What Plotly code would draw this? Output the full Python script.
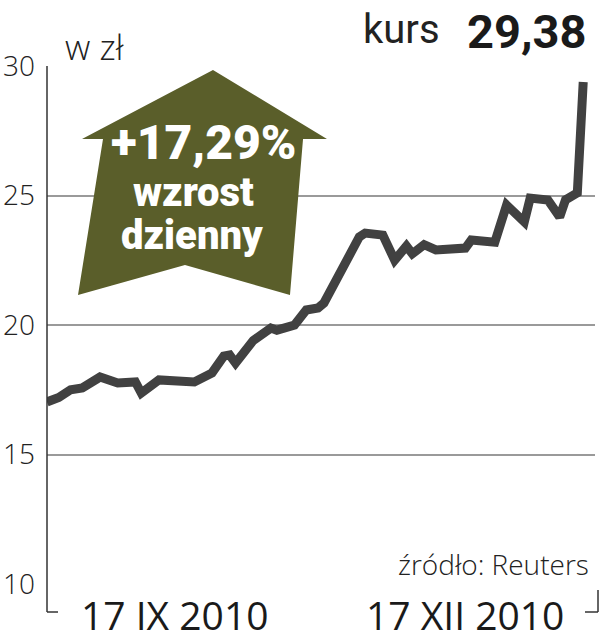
import plotly.graph_objects as go

# ---- data ----
dates = ["2010-09-17", "2010-09-19", "2010-09-21", "2010-09-23", "2010-09-26", "2010-09-29",
         "2010-10-02", "2010-10-03", "2010-10-06", "2010-10-12", "2010-10-15", "2010-10-17",
         "2010-10-18", "2010-10-19", "2010-10-22", "2010-10-25", "2010-10-26", "2010-10-29",
         "2010-10-31", "2010-11-02", "2010-11-03", "2010-11-05", "2010-11-07", "2010-11-09",
         "2010-11-10", "2010-11-13", "2010-11-15", "2010-11-17", "2010-11-18", "2010-11-20",
         "2010-11-22", "2010-11-24", "2010-11-27", "2010-11-28", "2010-12-02", "2010-12-04",
         "2010-12-07", "2010-12-08", "2010-12-11", "2010-12-13", "2010-12-14", "2010-12-16",
         "2010-12-17"]
kurs = [17.03, 17.2, 17.5, 17.57, 17.99, 17.76,
        17.8, 17.37, 17.88, 17.8, 18.15, 18.8,
        18.84, 18.53, 19.4, 19.88, 19.8, 20.0,
        20.58, 20.66, 20.85, 21.74, 22.63, 23.4,
        23.55, 23.47, 22.5, 23.05, 22.75, 23.1,
        22.9, 22.93, 22.97, 23.28, 23.2, 24.63,
        23.98, 24.9, 24.83, 24.17, 24.83, 25.1,
        29.38]
y_ticks = [10, 15, 20, 25, 30]
x_labels = ["17 IX 2010", "17 XII 2010"]
kurs_label = "29,38"
zmiana_label = "+17,29%"

W, H = 599, 640
L, R, T, B = 47, 4, 66, 56
pw, ph = W - L - R, H - T - B

def px(x):
    return (x - L) / pw

def py(y):
    return (H - B - y) / ph

fig = go.Figure()
fig.add_trace(go.Scatter(
    x=dates, y=kurs, mode="lines",
    line=dict(color="#414141", width=9, shape="linear"),
    hoverinfo="skip", showlegend=False,
))

# arrow polygon (decoration, paper coords)
arrow_pts = [(213, 70), (327, 139), (303, 139), (290, 295), (185, 265), (78, 295), (103, 139), (82, 139)]
path = "M " + " L ".join(f"{px(a):.4f},{py(b):.4f}" for a, b in arrow_pts) + " Z"

shapes = [
    dict(type="path", path=path, xref="paper", yref="paper",
         fillcolor="#5a5e2a", line=dict(width=0), layer="above"),
    # left axis + bracket
    dict(type="line", xref="paper", yref="paper", x0=px(47), x1=px(47), y0=py(66), y1=py(612),
         line=dict(color="#333333", width=1.5)),
    dict(type="line", xref="paper", yref="paper", x0=px(47), x1=px(58), y0=py(612), y1=py(612),
         line=dict(color="#333333", width=1.5)),
    # right bracket
    dict(type="line", xref="paper", yref="paper", x0=px(598), x1=px(598), y0=py(590), y1=py(612),
         line=dict(color="#333333", width=1.5)),
    dict(type="line", xref="paper", yref="paper", x0=px(585), x1=px(598), y0=py(612), y1=py(612),
         line=dict(color="#333333", width=1.5)),
]

light = dict(family="Open Sans", color="#222222", weight=300)
annotations = [
    dict(text="w zł", x=px(63), y=py(46), xref="paper", yref="paper", xanchor="left", yanchor="middle",
         showarrow=False, font=dict(size=35, **light)),
    dict(text="kurs", x=px(442), y=py(30), xref="paper", yref="paper", xanchor="right", yanchor="middle",
         showarrow=False, font=dict(family="Roboto", size=40, color="#222222")),
    dict(text=f"<b>{kurs_label}</b>", x=px(588), y=py(31), xref="paper", yref="paper", xanchor="right",
         yanchor="middle", showarrow=False, font=dict(family="Roboto", size=47, color="#1a1a1a", weight=900)),
    dict(text=zmiana_label, x=px(204), y=py(142), xref="paper", yref="paper", xanchor="center",
         yanchor="middle", showarrow=False, font=dict(family="Roboto", size=48, color="white", weight=900)),
    dict(text="wzrost", x=px(193), y=py(193), xref="paper", yref="paper", xanchor="center",
         yanchor="middle", showarrow=False, font=dict(family="Roboto", size=40, color="white", weight=900)),
    dict(text="dzienny", x=px(192), y=py(235), xref="paper", yref="paper", xanchor="center",
         yanchor="middle", showarrow=False, font=dict(family="Roboto", size=40, color="white", weight=900)),
    dict(text="źródło: Reuters", x=px(591), y=py(564), xref="paper", yref="paper", xanchor="right",
         yanchor="middle", showarrow=False, font=dict(size=28, **light)),
    dict(text=x_labels[0], x=px(174), y=py(614), xref="paper", yref="paper", xanchor="center",
         yanchor="middle", showarrow=False, font=dict(family="Open Sans", size=39, color="#1a1a1a", weight=500)),
    dict(text=x_labels[1], x=px(465), y=py(614), xref="paper", yref="paper", xanchor="center",
         yanchor="middle", showarrow=False, font=dict(family="Open Sans", size=39, color="#1a1a1a", weight=500)),
]

fig.update_layout(
    width=W, height=H,
    margin=dict(l=L, r=R, t=T, b=B, pad=0, autoexpand=False),
    paper_bgcolor="white", plot_bgcolor="white",
    xaxis=dict(range=["2010-09-17", "2010-12-19"], showgrid=False, showticklabels=False,
               zeroline=False, showline=False, ticks="", automargin=False),
    yaxis=dict(range=[10, 30], tickvals=y_ticks, showgrid=True, gridcolor="#9a9a9a", gridwidth=1.5,
               zeroline=False, showline=False, ticks="", ticklabelstandoff=11, automargin=False,
               tickfont=dict(size=28, **light)),
    shapes=shapes, annotations=annotations,
    showlegend=False,
)

fig.write_html("out.html", config={"displayModeBar": False},
               post_script="document.body.style.margin='0';document.body.style.padding='0';")
